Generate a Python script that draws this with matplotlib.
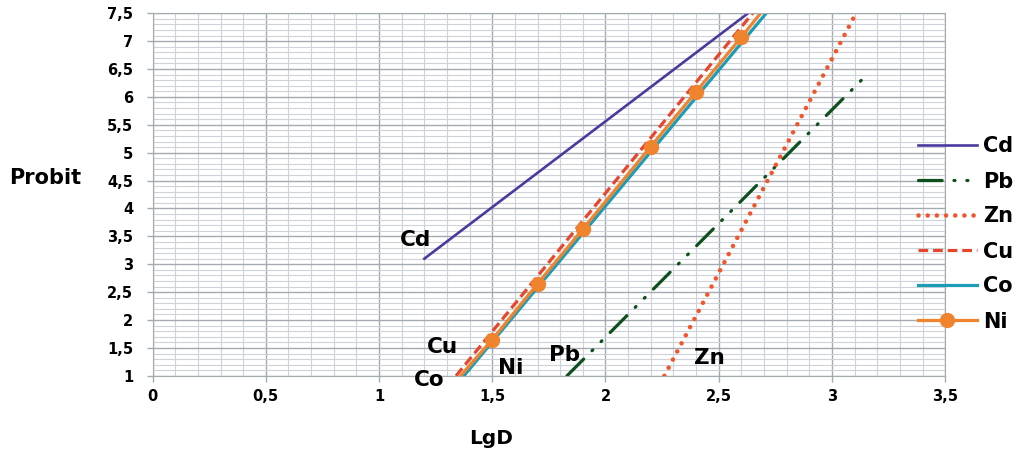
import numpy as np
import matplotlib
matplotlib.use("Agg")
import matplotlib.pyplot as plt
from matplotlib.ticker import MultipleLocator, FuncFormatter

plt.rcParams['font.family'] = ['DejaVu Sans']
plt.rcParams['font.weight'] = 'bold'
plt.rcParams['lines.scale_dashes'] = False

# data (LgD, Probit)
cd_x = [1.2, 2.63]
cd_y = [3.1, 7.5]
pb_x = [1.83, 3.16]
pb_y = [1.0, 6.42]
zn_x = [2.26, 3.1]
zn_y = [1.0, 7.45]
cu_x = [1.34, 2.65]
cu_y = [1.0, 7.5]
co_x = [1.375, 2.71]
co_y = [1.0, 7.5]
ni_x = [1.36, 1.5, 1.7, 1.9, 2.2, 2.4, 2.6, 2.685]
ni_y = [1.0, 1.65, 2.65, 3.63, 5.11, 6.09, 7.07, 7.5]

labels = ["Cd", "Cu", "Co", "Ni", "Pb", "Zn"]
label_x = [1.16, 1.28, 1.22, 1.58, 1.82, 2.46]
label_y = [3.43, 1.52, 0.93, 1.14, 1.375, 1.32]

fig = plt.figure(figsize=(10.24, 4.55), dpi=100)
ax = fig.add_axes([0.149, 0.174, 0.774, 0.797])

ax.plot(cd_x, cd_y, color='#4B3A9E', lw=1.9, label='Cd')
ax.plot(pb_x, pb_y, color='#0E4F1E', lw=2.3, dashes=(17, 8.5, 0.8, 8.5, 0.8, 8.5),
        dash_capstyle='round', label='Pb')
ax.plot(zn_x, zn_y, color='#F2552C', lw=3.3, dashes=(0.01, 6.6),
        dash_capstyle='round', label='Zn')
ax.plot(cu_x, cu_y, color='#E8452F', lw=2.3, dashes=(7, 3.5), label='Cu')
ax.plot(co_x, co_y, color='#1E9CB6', lw=2.3, label='Co')
ax.plot(ni_x, ni_y, color='#F0842E', lw=2.3, marker='o', markersize=10,
        markevery=[1, 2, 3, 4, 5, 6], label='Ni')

for t, x, y in zip(labels, label_x, label_y):
    ax.text(x, y, t, fontsize=15.5, fontweight='bold', ha='center', va='center',
            clip_on=False)

ax.set_xlim(0, 3.5)
ax.set_ylim(1, 7.5)
ax.xaxis.set_major_locator(MultipleLocator(0.5))
ax.yaxis.set_major_locator(MultipleLocator(0.5))
ax.xaxis.set_minor_locator(MultipleLocator(0.1))
ax.yaxis.set_minor_locator(MultipleLocator(0.1))
fmt = FuncFormatter(lambda v, p: ('%g' % v).replace('.', ','))
ax.xaxis.set_major_formatter(fmt)
ax.yaxis.set_major_formatter(fmt)
ax.grid(which='major', color='#A3ABB1', lw=1.0)
ax.grid(which='minor', color='#CDD3D8', lw=0.8)
ax.set_axisbelow(True)
ax.tick_params(which='major', labelsize=10.5, length=4, color='#A3ABB1', width=1)
ax.tick_params(which='minor', length=0)
ax.tick_params(axis='x', pad=5.7)
ax.tick_params(axis='y', pad=10)
for s in ax.spines.values():
    s.set_color('#A3ABB1')

fig.text(0.044, 0.609, 'Probit', fontsize=15, fontweight='bold', ha='center', va='center')
fig.text(0.48, 0.037, 'LgD', fontsize=14.5, fontweight='bold', ha='center', va='center')

fig.legend(loc='upper left', bbox_to_anchor=(0.896, 0.70), frameon=False,
           prop={'size': 15, 'weight': 'bold'}, borderpad=0, labelspacing=0.72,
           handlelength=2.85, handletextpad=0.3, borderaxespad=0)

fig.savefig('out.png', dpi=100)
